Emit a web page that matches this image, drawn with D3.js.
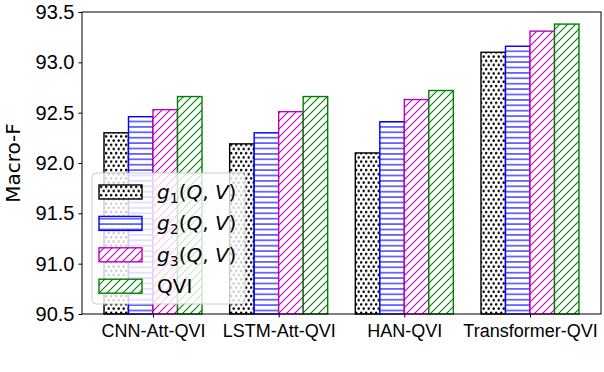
<!DOCTYPE html>
<html>
<head>
<meta charset="utf-8">
<script src="https://cdn.jsdelivr.net/npm/d3@7"></script>
<style>
  body { margin: 0; background: #fff; }
  svg { display: block; font-family: "DejaVu Sans", sans-serif; }
</style>
</head>
<body>
<div id="chart"></div>
<script>
const models = ['CNN-Att-QVI', 'LSTM-Att-QVI', 'HAN-QVI', 'Transformer-QVI'];
const seriesNames = ['g1', 'g2', 'g3', 'QVI'];
const g1Values = [92.30, 92.19, 92.10, 93.10];
const g2Values = [92.46, 92.30, 92.41, 93.16];
const g3Values = [92.53, 92.51, 92.63, 93.31];
const qviValues = [92.66, 92.66, 92.72, 93.38];
const yTicks = [90.5, 91.0, 91.5, 92.0, 92.5, 93.0, 93.5];

const allValues = [g1Values, g2Values, g3Values, qviValues];
const colors = ['#000000', '#0000ff', '#bf00bf', '#008000'];
const fills = ['url(#dots)', 'url(#hlines)', 'url(#diagM)', 'url(#diagG)'];

let width = 604, height = 372;
let margin = {left: 82, right: 3, top: 12, bottom: 58};

let svg = d3.select('#chart').append('svg')
    .attr('width', width)
    .attr('height', height);

// hatch patterns
let defs = svg.append('defs');
let dots = defs.append('pattern')
    .attr('id', 'dots')
    .attr('patternUnits', 'userSpaceOnUse')
    .attr('width', 5).attr('height', 8.4);
dots.append('rect').attr('width', 5).attr('height', 8.4).attr('fill', '#fff');
dots.append('circle').attr('cx', 1.2).attr('cy', 2).attr('r', 1.25).attr('fill', '#000');
dots.append('circle').attr('cx', 3.7).attr('cy', 6.2).attr('r', 1.25).attr('fill', '#000');

let hl = defs.append('pattern')
    .attr('id', 'hlines')
    .attr('patternUnits', 'userSpaceOnUse')
    .attr('width', 8).attr('height', 5.4);
hl.append('rect').attr('width', 8).attr('height', 5.4).attr('fill', '#fff');
hl.append('line').attr('x1', 0).attr('x2', 8).attr('y1', 2.7).attr('y2', 2.7)
    .attr('stroke', colors[1]).attr('stroke-width', 1.1);

[['diagM', colors[2]], ['diagG', colors[3]]].forEach(function(p) {
    let pat = defs.append('pattern')
        .attr('id', p[0])
        .attr('patternUnits', 'userSpaceOnUse')
        .attr('width', 8).attr('height', 8);
    pat.append('rect').attr('width', 8).attr('height', 8).attr('fill', '#fff');
    pat.append('path')
        .attr('d', 'M0,8L8,0M-2,2L2,-2M6,10L10,6')
        .attr('stroke', p[1]).attr('stroke-width', 1.1);
});

let x = d3.scaleLinear()
    .domain([-0.565, 3.565])
    .range([margin.left, width - margin.right]);
let y = d3.scaleLinear()
    .domain([90.5, 93.5])
    .range([height - margin.bottom, margin.top]);

const barW = 0.195;

let bars = svg.append('g');
allValues.forEach(function(vals, s) {
    bars.selectAll('.bar' + s)
        .data(vals)
        .enter()
        .append('rect')
        .attr('class', 'bar' + s)
        .attr('x', function(d, i) {return x(i + (s - 1.5) * barW - barW / 2)})
        .attr('width', x(barW) - x(0))
        .attr('y', function(d) {return y(d)})
        .attr('height', function(d) {return y(90.5) - y(d)})
        .attr('fill', fills[s])
        .attr('stroke', colors[s])
        .attr('stroke-width', 1.4);
});

// axes
let xAxis = svg.append('g')
    .attr('transform', 'translate(0,' + (height - margin.bottom) + ')')
    .call(d3.axisBottom(x).tickValues([0, 1, 2, 3])
        .tickFormat(function(d) {return models[d]})
        .tickSizeInner(3.5).tickSizeOuter(0).tickPadding(4));
xAxis.selectAll('text').attr('font-size', 18).attr('fill', '#000').attr('dy', '0.85em');

let yAxis = svg.append('g')
    .attr('transform', 'translate(' + margin.left + ',0)')
    .call(d3.axisLeft(y).tickValues(yTicks).tickFormat(d3.format('.1f'))
        .tickSizeInner(3.5).tickSizeOuter(0).tickPadding(4));
yAxis.selectAll('text').attr('font-size', 20).attr('fill', '#000');

svg.selectAll('.domain').remove();
svg.selectAll('.tick line').attr('stroke', '#000').attr('stroke-width', 1);

// frame
svg.append('rect')
    .attr('x', margin.left)
    .attr('y', margin.top)
    .attr('width', width - margin.left - margin.right)
    .attr('height', height - margin.top - margin.bottom)
    .attr('fill', 'none')
    .attr('stroke', '#000')
    .attr('stroke-width', 1);

svg.append('text')
    .attr('transform', 'translate(20,' + y(92) + ') rotate(-90)')
    .attr('text-anchor', 'middle')
    .attr('font-size', 20)
    .text('Macro-F');

// legend
let legend = svg.append('g');
legend.append('rect')
    .attr('x', 92).attr('y', 173)
    .attr('width', 153).attr('height', 131)
    .attr('rx', 4)
    .attr('fill', '#fff').attr('fill-opacity', 0.8)
    .attr('stroke', '#cccccc').attr('stroke-width', 1);

seriesNames.forEach(function(name, i) {
    let cy = 192 + i * 31.4;
    legend.append('rect')
        .attr('x', 99).attr('y', cy - 7)
        .attr('width', 43).attr('height', 14)
        .attr('fill', fills[i])
        .attr('stroke', colors[i])
        .attr('stroke-width', 1.4);
    let t = legend.append('text')
        .attr('x', 157).attr('y', cy + 7)
        .attr('font-size', 20);
    if (name === 'QVI') {
        t.text('QVI');
    } else {
        t.append('tspan').attr('font-style', 'italic').text('g');
        t.append('tspan').attr('font-size', 14).attr('dy', 4).text(name.slice(1));
        t.append('tspan').attr('dy', -4).text('(');
        t.append('tspan').attr('font-style', 'italic').text('Q');
        t.append('tspan').text(', ');
        t.append('tspan').attr('font-style', 'italic').text('V');
        t.append('tspan').text(')');
    }
});
</script>
</body>
</html>
